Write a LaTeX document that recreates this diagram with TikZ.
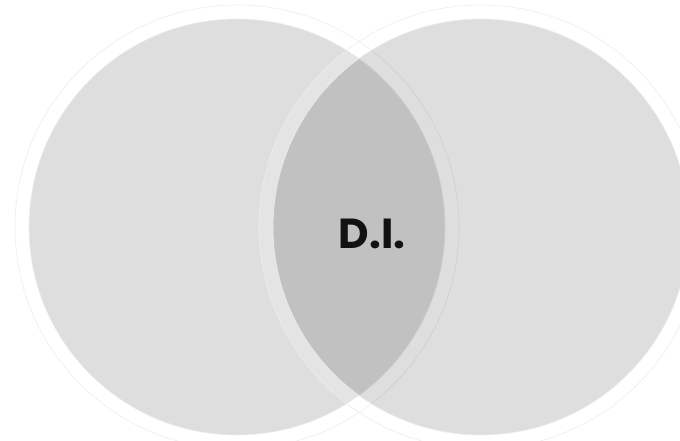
\documentclass[tikz,border=0pt]{standalone}
\usepackage{fontspec}
\setsansfont{Poppins}
\usepackage{xcolor}
\usepackage{tikz}
\definecolor{ringline}{rgb}{0.93, 0.93, 0.93}
\definecolor{labeltext}{rgb}{0.07, 0.07, 0.07}

\begin{document}
\begin{tikzpicture}[
  x=1pt, y=1pt,
  disc/.style={fill=black, fill opacity=0.13, draw=none},
  halo/.style={fill=white, fill opacity=0.18, even odd rule, draw=ringline, line width=0.6pt},
  label/.style={font=\sffamily\bfseries\fontsize{42}{42}\selectfont, text=labeltext}
]
\useasboundingbox (0, 0) rectangle (680, 440);

% Left set
\fill[disc] (237, 213) circle (208);
\path[halo] (237, 213) circle (222) (237, 213) circle (208);

% Right set
\fill[disc] (481, 213) circle (208);
\path[halo] (481, 213) circle (222) (481, 213) circle (208);

% Overlap
\node[label] (overlap) at (372, 206) {D.I.};

\end{tikzpicture}
\end{document}
